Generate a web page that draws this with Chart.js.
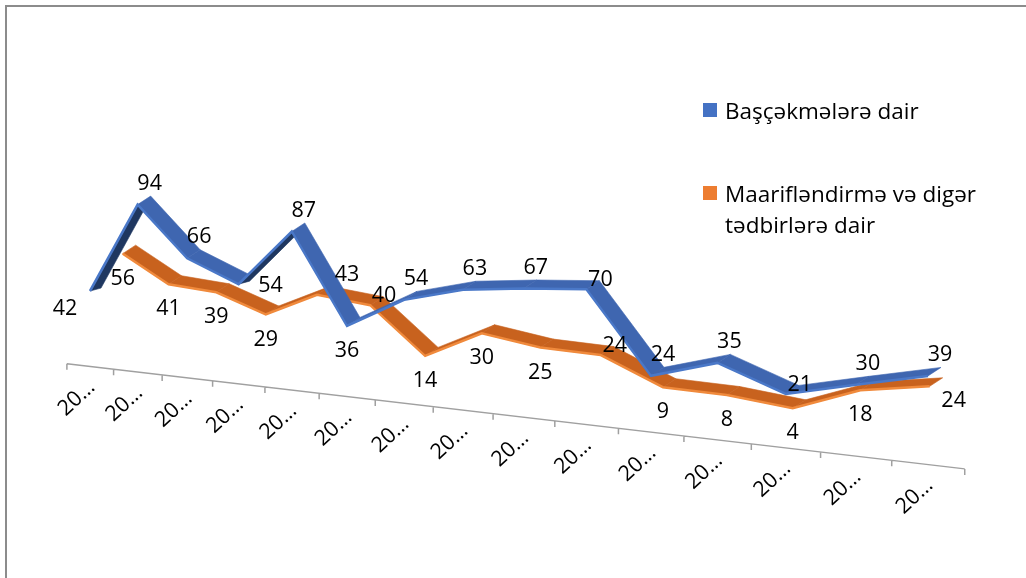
<!DOCTYPE html>
<html>
<head>
<meta charset="utf-8">
<script src="https://cdn.jsdelivr.net/npm/chart.js@4.4.0/dist/chart.umd.min.js"></script>
<style>
  html, body { margin: 0; padding: 0; background: #fff; overflow: hidden; }
  #wrap { position: relative; width: 1026px; height: 578px; }
  #frame { position: absolute; left: 5px; top: 5px; width: 1100px; height: 700px;
           border: 2px solid #8c8c8c; box-sizing: border-box; }
  canvas { position: absolute; left: 0; top: 0; }
  #legend { position: absolute; left: 703px; top: 95px; width: 320px;
            font: 22.5px "Open Sans", Lato, sans-serif; color: #000; }
  .item { display: flex; align-items: flex-start; margin-bottom: 52px; line-height: 31px; }
  .box { width: 14px; height: 14px; margin: 8px 8px 0 0; flex: none; }
  .text { width: 290px; }
</style>
</head>
<body>
<div id="wrap">
  <div id="frame"></div>
  <canvas id="chart" width="1026" height="578"></canvas>
  <div id="legend"></div>
</div>
<script>
// categories (the source only shows truncated years)
const categories = ['20…', '20…', '20…', '20…', '20…', '20…', '20…', '20…',
                    '20…', '20…', '20…', '20…', '20…', '20…', '20…'];
const seriesNames = ['Başçəkmələrə dair', 'Maarifləndirmə və digər tədbirlərə dair'];
const bascekme = [42, 94, 66, 54, 87, 36, 54, 63, 67, 70, 24, 35, 21, 30, 39];
const maariflendirme = [56, 41, 39, 29, 43, 40, 14, 30, 25, 24, 9, 8, 4, 18, 24];

// where each value label sits around its point
const blueAnchors = ['l', 'a', 'a', 'r', 'a', 'b', 'a', 'a', 'a', 'e', 'a', 'a', 'e', 'a', 'a'];
const orangeAnchors = ['b', 'b', 'b', 'b', 'ar', 'e', 'b', 'b', 'b', 'e', 'b', 'b', 'b', 'b', 'se'];
const anchorOffsets = {
  a: [12, -21], ar: [30, -20], e: [14, -9], r: [32, 2], b: [0, 25], l: [-25, 18], se: [24, 15]
};

const FONT = '21.5px "Open Sans", Lato, sans-serif';
const K = 0.095;          // slope of the tilted floor
const AXIS_K = 0.117;     // slope of the front axis edge
const WARP = 0.22;        // perspective widening towards the right
const DEPTH = [13, -8.5]; // ribbon depth vector (top faces)
const SIDE = [11, -3];    // shaded face on steep rising parts

const looks = [
  { a: 1, e: 0, dy: 0, edge: '#4a78c8', top: '#3f66b0', side: '#1f3760', anchors: blueAnchors },
  { a: 0.963, e: 36, dy: -16, edge: '#f08a3c', top: '#c8621e', side: '#8a4212', anchors: orangeAnchors }
];

class PerspectiveCategoryScale extends Chart.CategoryScale {
  getPixelForDecimal(decimal) {
    return super.getPixelForDecimal((1 - WARP) * decimal + WARP * decimal * decimal);
  }
}
PerspectiveCategoryScale.id = 'perspectiveCategory';
PerspectiveCategoryScale.defaults = Chart.CategoryScale.defaults;
Chart.register(PerspectiveCategoryScale);

function toScreen(look, x, y) {
  const sx = look.a * x + look.e;
  return [sx, y + K * sx + look.dy];
}

const ribbon3d = {
  id: 'ribbon3d',
  beforeDatasetDraw(chart, args) {
    const ctx = chart.ctx;
    const look = looks[args.index];
    const pts = args.meta.data.map(p => toScreen(look, p.x, p.y));
    ctx.save();
    for (let i = 0; i < pts.length - 1; i++) {
      const [x1, y1] = pts[i];
      const [x2, y2] = pts[i + 1];
      const cross = (x2 - x1) * DEPTH[1] - (y2 - y1) * DEPTH[0];
      const steep = cross > 0 && (y1 - y2) > (x2 - x1) * 0.8;
      const v = steep ? SIDE : DEPTH;
      ctx.fillStyle = cross < 0 ? look.top : look.side;
      ctx.strokeStyle = ctx.fillStyle;
      ctx.lineWidth = 0.6;
      ctx.beginPath();
      ctx.moveTo(x1, y1);
      ctx.lineTo(x2, y2);
      ctx.lineTo(x2 + v[0], y2 + v[1]);
      ctx.lineTo(x1 + v[0], y1 + v[1]);
      ctx.closePath();
      ctx.fill();
      ctx.stroke();
    }
    ctx.restore();
    ctx.save();
    ctx.transform(look.a, K * look.a, 0, 1, look.e, K * look.e + look.dy);
  },
  afterDatasetDraw(chart) {
    chart.ctx.restore();
  }
};

const floorAxis = {
  id: 'floorAxis',
  afterDatasetsDraw(chart) {
    const ctx = chart.ctx;
    const xs = chart.scales.x;
    const zeroY = chart.scales.y.getPixelForValue(0);
    const axisY = x => zeroY + AXIS_K * x;
    const n = categories.length;
    ctx.save();
    ctx.strokeStyle = '#a0a0a0';
    ctx.lineWidth = 1.5;
    const x0 = xs.getPixelForValue(-0.5);
    const x1 = xs.getPixelForValue(n - 0.5);
    ctx.beginPath();
    ctx.moveTo(x0, axisY(x0));
    ctx.lineTo(x1, axisY(x1));
    for (let i = 0; i <= n; i++) {
      const x = xs.getPixelForValue(i - 0.5);
      ctx.moveTo(x, axisY(x));
      ctx.lineTo(x, axisY(x) + 6);
    }
    ctx.stroke();
    ctx.fillStyle = '#000';
    ctx.font = FONT;
    ctx.textAlign = 'right';
    ctx.textBaseline = 'alphabetic';
    categories.forEach((c, i) => {
      const x = xs.getPixelForValue(i);
      ctx.save();
      ctx.translate(x + 6, axisY(x) + 22);
      ctx.rotate(-43 * Math.PI / 180);
      ctx.fillText(c, 0, 0);
      ctx.restore();
    });
    ctx.restore();
  }
};

const valueLabels = {
  id: 'valueLabels',
  afterDatasetsDraw(chart) {
    const ctx = chart.ctx;
    ctx.save();
    ctx.font = FONT;
    ctx.fillStyle = '#000';
    ctx.textAlign = 'center';
    ctx.textBaseline = 'middle';
    chart.data.datasets.forEach((ds, d) => {
      const look = looks[d];
      chart.getDatasetMeta(d).data.forEach((p, i) => {
        const [x, y] = toScreen(look, p.x, p.y);
        const off = anchorOffsets[look.anchors[i]];
        ctx.fillText(String(ds.data[i]), x + off[0], y + off[1]);
      });
    });
    ctx.restore();
  }
};

const chart = new Chart(document.getElementById('chart'), {
  type: 'line',
  data: {
    labels: categories,
    datasets: [
      { label: seriesNames[0], data: bascekme, borderColor: looks[0].edge, backgroundColor: '#4472c4',
        borderWidth: 2.5, pointRadius: 0, clip: false },
      { label: seriesNames[1], data: maariflendirme, borderColor: looks[1].edge, backgroundColor: '#ed7d31',
        borderWidth: 2.5, pointRadius: 0, clip: false }
    ]
  },
  options: {
    responsive: false,
    animation: false,
    events: [],
    layout: { padding: { left: 90, right: 98, top: 181, bottom: 222 } },
    scales: {
      x: { type: 'perspectiveCategory', display: false, offset: false },
      y: { display: false, min: 0, max: 100 }
    },
    plugins: { legend: { display: false }, tooltip: { enabled: false } }
  },
  plugins: [ribbon3d, floorAxis, valueLabels]
});

// legend on the right, built from the datasets
const legend = document.getElementById('legend');
chart.data.datasets.forEach(ds => {
  const item = document.createElement('div');
  item.className = 'item';
  item.innerHTML = '<span class="box" style="background:' + ds.backgroundColor + '"></span>' +
                   '<span class="text">' + ds.label + '</span>';
  legend.appendChild(item);
});
</script>
</body>
</html>
